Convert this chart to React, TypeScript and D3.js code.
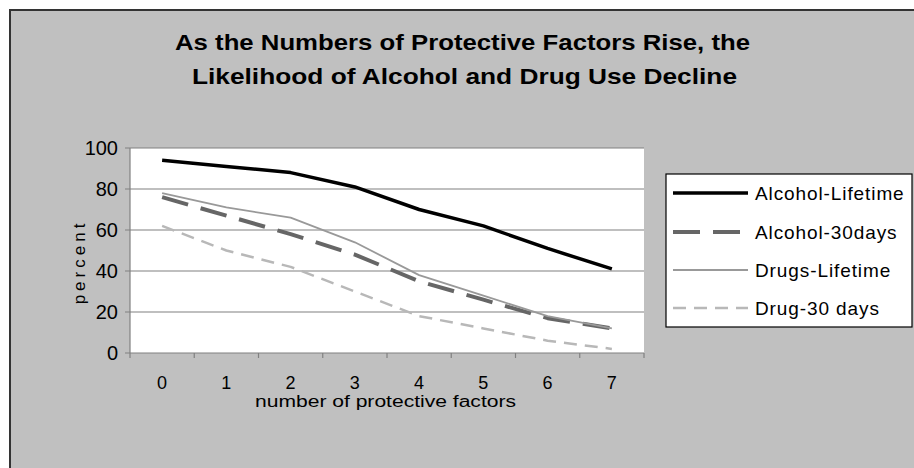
import React from "react";
import * as d3 from "d3";

const categories = ["0", "1", "2", "3", "4", "5", "6", "7"];
const yTicks = [0, 20, 40, 60, 80, 100];
const alcoholLifetime = [94, 91, 88, 81, 70, 62, 51, 41];
const alcohol30 = [76, 67, 58, 48, 35, 26, 17, 12];
const drugsLifetime = [78, 71, 66, 54, 38, 28, 18, 12];
const drug30 = [62, 50, 42, 30, 18, 12, 6, 2];
const seriesNames = ["Alcohol-Lifetime", "Alcohol-30days", "Drugs-Lifetime", "Drug-30 days"];
const titleLines = [
  "As the Numbers of Protective Factors Rise, the",
  "Likelihood of Alcohol and Drug Use Decline",
];

const styles = [
  { stroke: "#000000", width: 3.5, dash: "" },
  { stroke: "#666666", width: 4, dash: "27,13" },
  { stroke: "#999999", width: 1.8, dash: "" },
  { stroke: "#b8b8b8", width: 2.5, dash: "13,8" },
];

export default function App() {
  const W = 914, H = 468;
  const left = 130, right = 644, top = 148, bottom = 353;
  const x = d3.scaleBand().domain(categories).range([left, right]);
  const y = d3.scaleLinear().domain([0, 100]).range([bottom, top]);
  const data = [alcoholLifetime, alcohol30, drugsLifetime, drug30];
  const line = d3
    .line<number>()
    .x((_, i) => (x(categories[i]) as number) + x.bandwidth() / 2)
    .y((v) => y(v));
  const font = "'Liberation Sans', Arial, sans-serif";
  const legendRows = [193, 232, 270, 308];

  return (
    <svg
      width={W}
      height={H}
      style={{ position: "absolute", left: 0, top: 0 }}
      fontFamily={font}
    >
      <rect x={0} y={0} width={W} height={H} fill="#ffffff" />
      <rect x={10} y={10} width={W} height={H} fill="#c0c0c0" stroke="#333333" strokeWidth={2} />
      {titleLines.map((t, i) => (
        <text
          key={i}
          x={i === 0 ? 175 : 192}
          y={i === 0 ? 50 : 84}
          fontSize={22}
          fontWeight="bold"
          fill="#000"
          textLength={i === 0 ? 575 : 545}
          lengthAdjust="spacingAndGlyphs"
        >
          {t}
        </text>
      ))}
      <rect x={left} y={top} width={right - left} height={bottom - top} fill="#ffffff" />
      {yTicks.map((t) => (
        <g key={t}>
          <line x1={left - 5} x2={right} y1={y(t)} y2={y(t)} stroke="#808080" strokeWidth={1.2} />
          <text x={118} y={y(t) + 7} fontSize={20} textAnchor="end" fill="#000">
            {t}
          </text>
        </g>
      ))}
      <line x1={left} x2={left} y1={top} y2={bottom} stroke="#808080" strokeWidth={1.2} />
      {categories.map((c) => (
        <g key={c}>
          <line
            x1={x(c) as number}
            x2={x(c) as number}
            y1={bottom}
            y2={bottom + 5}
            stroke="#808080"
            strokeWidth={1.2}
          />
          <text
            x={(x(c) as number) + x.bandwidth() / 2}
            y={389}
            fontSize={18}
            textAnchor="middle"
            fill="#000"
          >
            {c}
          </text>
        </g>
      ))}
      <line x1={right} x2={right} y1={bottom} y2={bottom + 5} stroke="#808080" strokeWidth={1.2} />
      {data.map((d, i) => (
        <path
          key={i}
          d={line(d) || ""}
          fill="none"
          stroke={styles[i].stroke}
          strokeWidth={styles[i].width}
          strokeDasharray={styles[i].dash || undefined}
          strokeLinejoin="round"
        />
      ))}
      <text
        x={255}
        y={407}
        fontSize={16}
        fill="#000"
        textLength={261}
        lengthAdjust="spacingAndGlyphs"
      >
        number of protective factors
      </text>
      <text
        transform="translate(85,262) rotate(-90)"
        fontSize={17}
        textAnchor="middle"
        letterSpacing={4}
        fill="#000"
      >
        percent
      </text>
      <rect x={666} y={174} width={246} height={153} fill="#ffffff" stroke="#000" strokeWidth={1.2} />
      {seriesNames.map((n, i) => (
        <g key={n}>
          <line
            x1={673}
            x2={748}
            y1={legendRows[i]}
            y2={legendRows[i]}
            stroke={styles[i].stroke}
            strokeWidth={styles[i].width}
            strokeDasharray={styles[i].dash || undefined}
          />
          <text x={755} y={legendRows[i] + 7} fontSize={19} letterSpacing={0.9} fill="#000">
            {n}
          </text>
        </g>
      ))}
    </svg>
  );
}
